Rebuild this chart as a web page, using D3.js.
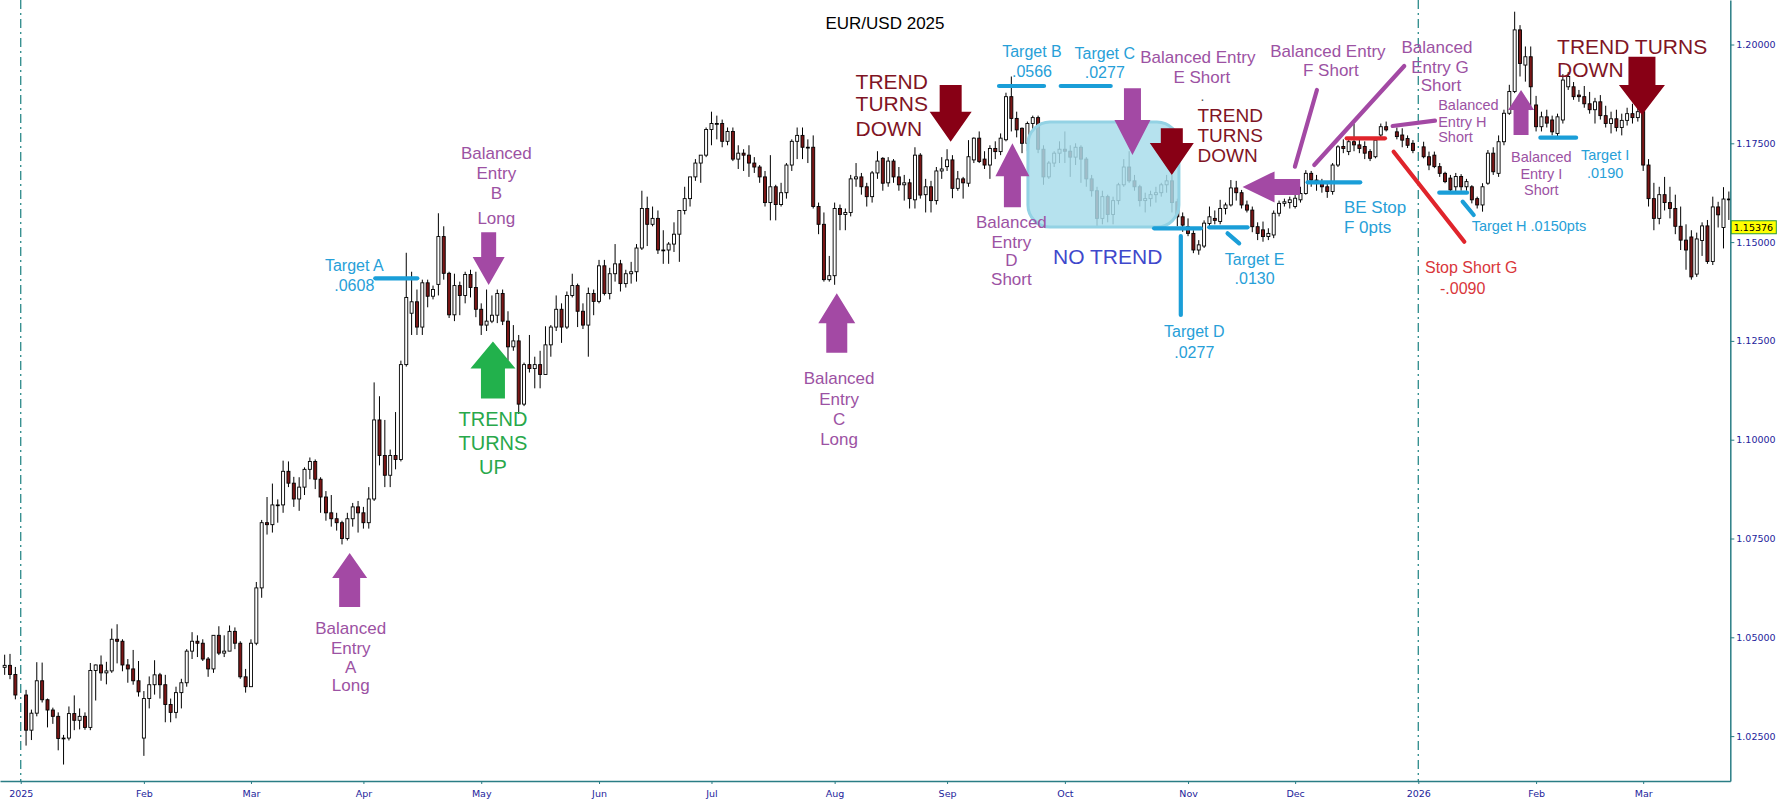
<!DOCTYPE html>
<html>
<head>
<meta charset="utf-8">
<script src="https://cdn.jsdelivr.net/npm/d3@7"></script>
<style>
  body { margin: 0; background: #fff; }
  svg { display: block; }
  text { font-family: "Liberation Sans", Arial, sans-serif; }
  .axis text { font-family: "DejaVu Sans", Verdana, sans-serif; font-size: 9.5px; fill: #23239b; }
  .axis path, .axis line { stroke: #2a7d85; }
</style>
</head>
<body>
<svg id="chart" width="1787" height="811"></svg>
<script>
// daily candles [open, high, low, close], one row per weekday, null = holiday
const dec24 = [
  [1.0424,1.0456,1.0405,1.0429],[1.0429,1.0458,1.0394,1.0406],[1.0406,1.0425,1.0343,1.0354]
];
const jan25 = [
  null,
  [1.0354,1.0367,1.0226,1.0265],[1.0265,1.0317,1.0240,1.0308],[1.0308,1.0437,1.0300,1.0390],
  [1.0390,1.0436,1.0335,1.0342],[1.0342,1.0345,1.0272,1.0316],[1.0316,1.0322,1.0281,1.0300],
  [1.0300,1.0310,1.0214,1.0244],[1.0244,1.0253,1.0178,1.0245],[1.0245,1.0325,1.0239,1.0307],
  [1.0307,1.0353,1.0265,1.0290],[1.0290,1.0320,1.0267,1.0300],[1.0300,1.0310,1.0266,1.0272],
  [1.0272,1.0435,1.0265,1.0416],[1.0416,1.0431,1.0340,1.0430],[1.0430,1.0454,1.0390,1.0410],
  [1.0410,1.0438,1.0381,1.0415],[1.0415,1.0522,1.0410,1.0495],[1.0495,1.0533,1.0434,1.0490],
  [1.0490,1.0495,1.0414,1.0430],[1.0430,1.0445,1.0385,1.0420],[1.0420,1.0468,1.0380,1.0390],
  [1.0390,1.0440,1.0350,1.0362]
];
const feb25 = [
  [1.0245,1.0364,1.0200,1.0345],[1.0345,1.0401,1.0320,1.0380],[1.0380,1.0442,1.0355,1.0405],
  [1.0405,1.0410,1.0345,1.0380],[1.0380,1.0405,1.0285,1.0330],[1.0330,1.0345,1.0285,1.0310],
  [1.0310,1.0375,1.0295,1.0360],[1.0360,1.0395,1.0320,1.0385],[1.0385,1.0470,1.0375,1.0465],
  [1.0465,1.0513,1.0445,1.0490],[1.0490,1.0505,1.0450,1.0485],[1.0485,1.0495,1.0440,1.0445],
  [1.0445,1.0450,1.0400,1.0420],[1.0420,1.0505,1.0410,1.0505],[1.0505,1.0528,1.0455,1.0460],
  [1.0460,1.0505,1.0450,1.0465],[1.0465,1.0530,1.0465,1.0515],[1.0515,1.0525,1.0470,1.0485],
  [1.0485,1.0490,1.0395,1.0400],[1.0400,1.0420,1.0360,1.0375]
];
const mar25 = [
  [1.0375,1.0495,1.0375,1.0485],[1.0485,1.0640,1.0480,1.0625],[1.0625,1.0797,1.0600,1.0790],
  [1.0790,1.0855,1.0760,1.0785],[1.0785,1.0889,1.0765,1.0835],[1.0835,1.0849,1.0790,1.0835],
  [1.0835,1.0947,1.0815,1.0920],[1.0920,1.0945,1.0880,1.0890],[1.0890,1.0906,1.0830,1.0850],
  [1.0850,1.0905,1.0820,1.0880],[1.0880,1.0930,1.0860,1.0925],[1.0925,1.0955,1.0900,1.0945],
  [1.0945,1.0950,1.0875,1.0900],[1.0900,1.0905,1.0815,1.0855],[1.0855,1.0870,1.0795,1.0815],
  [1.0815,1.0860,1.0780,1.0800],[1.0800,1.0815,1.0770,1.0790],[1.0790,1.0795,1.0735,1.0750],
  [1.0750,1.0815,1.0745,1.0800],[1.0800,1.0840,1.0780,1.0830],[1.0830,1.0845,1.0765,1.0815]
];
const apr25 = [
  [1.0815,1.0830,1.0775,1.0790],[1.0790,1.0880,1.0775,1.0850],[1.0850,1.1145,1.0845,1.1050],
  [1.1050,1.1110,1.0935,1.0960],[1.0960,1.1050,1.0880,1.0910],[1.0910,1.0975,1.0880,1.0960],
  [1.0960,1.1070,1.0925,1.0950],[1.0950,1.1200,1.0945,1.1190],[1.1190,1.1473,1.1185,1.1360],
  [1.1320,1.1425,1.1265,1.1349],[1.1349,1.1380,1.1265,1.1285],[1.1285,1.1405,1.1265,1.1397],
  [1.1397,1.1405,1.1335,1.1363],[1.1363,1.1390,1.1355,1.1380],[1.1393,1.1573,1.1365,1.1514],
  [1.1514,1.1540,1.1405,1.1421],[1.1421,1.1425,1.1308,1.1316],[1.1316,1.1420,1.1300,1.1390],
  [1.1390,1.1400,1.1315,1.1365],[1.1365,1.1425,1.1345,1.1418],[1.1418,1.1430,1.1360,1.1385],
  [1.1385,1.1425,1.1310,1.1330]
];
const may25 = [
  [1.1330,1.1345,1.1265,1.1290],[1.1290,1.1380,1.1275,1.1300],[1.1300,1.1365,1.1295,1.1315],
  [1.1315,1.1380,1.1295,1.1370],[1.1370,1.1380,1.1290,1.1300],[1.1300,1.1325,1.1200,1.1235],
  [1.1235,1.1290,1.1225,1.1250],[1.1250,1.1265,1.1065,1.1090],[1.1090,1.1195,1.1085,1.1190],
  [1.1190,1.1265,1.1170,1.1180],[1.1180,1.1210,1.1130,1.1190],[1.1190,1.1225,1.1130,1.1165],
  [1.1165,1.1287,1.1165,1.1240],[1.1240,1.1290,1.1210,1.1285],[1.1285,1.1365,1.1275,1.1330],
  [1.1330,1.1345,1.1245,1.1285],[1.1285,1.1375,1.1280,1.1365],[1.1365,1.1420,1.1360,1.1390],
  [1.1390,1.1395,1.1285,1.1325],[1.1325,1.1345,1.1280,1.1290],[1.1290,1.1385,1.1210,1.1370],
  [1.1370,1.1380,1.1315,1.1350]
];
const jun25 = [
  [1.1350,1.1455,1.1345,1.1440],[1.1440,1.1455,1.1365,1.1370],[1.1370,1.1435,1.1355,1.1420],
  [1.1420,1.1495,1.1400,1.1445],[1.1445,1.1455,1.1375,1.1395],[1.1395,1.1430,1.1385,1.1420],
  [1.1420,1.1450,1.1395,1.1425],[1.1425,1.1495,1.1400,1.1485],[1.1485,1.1630,1.1480,1.1585],
  [1.1585,1.1615,1.1490,1.1545],[1.1545,1.1590,1.1540,1.1560],[1.1560,1.1580,1.1470,1.1480],
  [1.1480,1.1530,1.1445,1.1480],[1.1480,1.1500,1.1445,1.1495],[1.1495,1.1550,1.1475,1.1520],
  [1.1520,1.1580,1.1450,1.1580],[1.1580,1.1640,1.1570,1.1610],[1.1610,1.1660,1.1590,1.1665],
  [1.1665,1.1710,1.1655,1.1700],[1.1700,1.1720,1.1650,1.1720],[1.1720,1.1790,1.1715,1.1785]
];
const jul25 = [
  [1.1785,1.1830,1.1745,1.1800],[1.1800,1.1820,1.1760,1.1800],[1.1800,1.1810,1.1740,1.1755],
  [1.1755,1.1790,1.1745,1.1780],[1.1780,1.1790,1.1705,1.1710],[1.1710,1.1745,1.1685,1.1725],
  [1.1725,1.1735,1.1680,1.1720],[1.1720,1.1745,1.1665,1.1700],[1.1700,1.1715,1.1675,1.1690],
  [1.1690,1.1695,1.1650,1.1665],[1.1665,1.1680,1.1590,1.1600],[1.1600,1.1720,1.1555,1.1640],
  [1.1640,1.1645,1.1555,1.1595],[1.1595,1.1650,1.1590,1.1625],[1.1625,1.1700,1.1610,1.1695],
  [1.1695,1.1760,1.1680,1.1755],[1.1755,1.1790,1.1710,1.1770],[1.1770,1.1790,1.1710,1.1740],
  [1.1740,1.1760,1.1700,1.1740],[1.1740,1.1770,1.1585,1.1590],[1.1590,1.1600,1.1520,1.1545],
  [1.1545,1.1575,1.1400,1.1405],[1.1405,1.1465,1.1400,1.1415]
];
const aug25 = [
  [1.1415,1.1600,1.1392,1.1585],[1.1585,1.1595,1.1530,1.1570],[1.1570,1.1585,1.1530,1.1575],
  [1.1575,1.1670,1.1565,1.1660],[1.1660,1.1700,1.1640,1.1665],[1.1665,1.1675,1.1620,1.1640],
  [1.1640,1.1650,1.1590,1.1615],[1.1615,1.1680,1.1600,1.1675],[1.1675,1.1730,1.1660,1.1705],
  [1.1712,1.1715,1.1630,1.1649],[1.1650,1.1715,1.1640,1.1705],[1.1705,1.1710,1.1650,1.1665],
  [1.1665,1.1690,1.1630,1.1645],[1.1645,1.1670,1.1605,1.1650],[1.1650,1.1660,1.1585,1.1610],
  [1.1607,1.1740,1.1585,1.1720],[1.1720,1.1725,1.1610,1.1619],[1.1620,1.1660,1.1575,1.1640],
  [1.1640,1.1655,1.1575,1.1605],[1.1605,1.1690,1.1595,1.1680],[1.1680,1.1715,1.1660,1.1685]
];
const sep25 = [
  [1.1691,1.1735,1.1680,1.1708],[1.1708,1.1720,1.1611,1.1636],[1.1636,1.1680,1.1630,1.1660],
  [1.1660,1.1665,1.1610,1.1650],[1.1649,1.1758,1.1640,1.1716],[1.1708,1.1765,1.1700,1.1763],
  [1.1763,1.1780,1.1700,1.1704],[1.1710,1.1730,1.1685,1.1695],[1.1695,1.1745,1.1660,1.1737],
  [1.1737,1.1755,1.1710,1.1729],[1.1729,1.1775,1.1720,1.1763],[1.1759,1.1878,1.1755,1.1868],
  [1.1868,1.1919,1.1780,1.1813],[1.1813,1.1830,1.1765,1.1784],[1.1788,1.1790,1.1725,1.1750],
  [1.1750,1.1805,1.1730,1.1800],[1.1800,1.1820,1.1785,1.1815],[1.1815,1.1820,1.1725,1.1735],
  [1.1735,1.1745,1.1645,1.1665],[1.1665,1.1705,1.1660,1.1700],[1.1700,1.1730,1.1690,1.1725],
  [1.1725,1.1755,1.1700,1.1735]
];
const oct25 = [
  [1.1735,1.1780,1.1700,1.1730],[1.1730,1.1745,1.1665,1.1715],[1.1715,1.1750,1.1695,1.1740],
  [1.1740,1.1745,1.1650,1.1710],[1.1710,1.1715,1.1640,1.1660],[1.1660,1.1670,1.1615,1.1630],
  [1.1630,1.1640,1.1540,1.1560],[1.1560,1.1630,1.1545,1.1615],[1.1615,1.1620,1.1550,1.1570],
  [1.1570,1.1615,1.1545,1.1605],[1.1605,1.1650,1.1595,1.1645],[1.1645,1.1710,1.1640,1.1690],
  [1.1690,1.1730,1.1650,1.1655],[1.1655,1.1670,1.1630,1.1640],[1.1640,1.1645,1.1590,1.1605],
  [1.1605,1.1625,1.1575,1.1610],[1.1610,1.1630,1.1590,1.1620],[1.1620,1.1640,1.1600,1.1625],
  [1.1625,1.1650,1.1615,1.1645],[1.1645,1.1670,1.1625,1.1655],[1.1655,1.1670,1.1575,1.1600],
  [1.1602,1.1610,1.1540,1.1564],[1.1564,1.1575,1.1526,1.1543]
];
const nov25 = [
  [1.1539,1.1560,1.1515,1.1522],[1.1522,1.1530,1.1472,1.1480],[1.1480,1.1505,1.1468,1.1493],
  [1.1490,1.1555,1.1485,1.1548],[1.1547,1.1590,1.1540,1.1564],[1.1560,1.1580,1.1545,1.1555],
  [1.1552,1.1607,1.1545,1.1585],[1.1585,1.1600,1.1570,1.1594],[1.1594,1.1657,1.1590,1.1637],
  [1.1637,1.1655,1.1605,1.1625],[1.1625,1.1632,1.1585,1.1594],[1.1594,1.1605,1.1575,1.1581],
  [1.1581,1.1590,1.1525,1.1539],[1.1539,1.1550,1.1505,1.1522],[1.1531,1.1552,1.1501,1.1514],
  [1.1514,1.1535,1.1505,1.1522],[1.1518,1.1580,1.1510,1.1573],[1.1573,1.1605,1.1565,1.1598],
  [1.1598,1.1610,1.1590,1.1602],[1.1600,1.1615,1.1585,1.1607]
];
const dec25 = [
  [1.1590,1.1620,1.1585,1.1611],[1.1607,1.1640,1.1600,1.1623],[1.1623,1.1682,1.1620,1.1674],
  [1.1674,1.1680,1.1640,1.1657],[1.1657,1.1670,1.1630,1.1649],[1.1649,1.1660,1.1625,1.1640],
  [1.1640,1.1650,1.1612,1.1628],[1.1628,1.1700,1.1620,1.1695],[1.1695,1.1745,1.1690,1.1741],
  [1.1742,1.1760,1.1725,1.1737],[1.1729,1.1765,1.1720,1.1754],[1.1754,1.1800,1.1730,1.1746],
  [1.1746,1.1760,1.1725,1.1737],[1.1742,1.1755,1.1710,1.1725],[1.1729,1.1735,1.1705,1.1712],
  [1.1716,1.1765,1.1712,1.1758],[1.1771,1.1800,1.1765,1.1792],[1.1792,1.1805,1.1780,1.1784],
  null,
  [1.1779,1.1790,1.1760,1.1767],[1.1771,1.1788,1.1740,1.1758],[1.1762,1.1770,1.1738,1.1745],
  [1.1750,1.1758,1.1725,1.1732]
];
const jan26 = [
  null,
  [1.1741,1.1754,1.1712,1.1716],[1.1716,1.1729,1.1682,1.1695],[1.1720,1.1729,1.1687,1.1691],
  [1.1691,1.1700,1.1665,1.1674],[1.1674,1.1678,1.1649,1.1653],[1.1662,1.1670,1.1625,1.1632],
  [1.1640,1.1675,1.1628,1.1666],[1.1666,1.1672,1.1630,1.1640],[1.1640,1.1660,1.1630,1.1653],
  [1.1640,1.1644,1.1598,1.1607],[1.1610,1.1615,1.1585,1.1594],[1.1594,1.1649,1.1577,1.1640],
  [1.1649,1.1733,1.1645,1.1725],[1.1725,1.1740,1.1670,1.1678],[1.1674,1.1770,1.1665,1.1754],
  [1.1754,1.1835,1.1745,1.1826],[1.1826,1.1898,1.1822,1.1881],[1.1881,1.2083,1.1877,1.2037],
  [1.2037,1.2049,1.1919,1.1952],[1.1948,1.1995,1.1906,1.1969],[1.1969,1.1995,1.1834,1.1893]
];
const feb26 = [
  [1.1847,1.1870,1.1780,1.1792],[1.1792,1.1830,1.1780,1.1817],[1.1817,1.1835,1.1790,1.1801],
  [1.1809,1.1820,1.1770,1.1779],[1.1775,1.1825,1.1765,1.1817],[1.1809,1.1925,1.1800,1.1910],
  [1.1893,1.1930,1.1885,1.1919],[1.1893,1.1905,1.1860,1.1868],[1.1872,1.1885,1.1855,1.1868],
  [1.1868,1.1895,1.1840,1.1850],[1.1850,1.1880,1.1825,1.1835],[1.1835,1.1865,1.1800,1.1855],
  [1.1855,1.1872,1.1810,1.1820],[1.1820,1.1845,1.1790,1.1800],[1.1800,1.1830,1.1775,1.1812],
  [1.1812,1.1835,1.1780,1.1790],[1.1790,1.1825,1.1770,1.1808],[1.1808,1.1840,1.1795,1.1825],
  [1.1825,1.1850,1.1800,1.1815],[1.1815,1.1845,1.1805,1.1830]
];
const mar26 = [
  [1.1830,1.1838,1.1680,1.1695],[1.1695,1.1710,1.1590,1.1610],[1.1610,1.1650,1.1530,1.1560],
  [1.1560,1.1640,1.1545,1.1620],[1.1620,1.1665,1.1580,1.1600],[1.1600,1.1640,1.1560,1.1585],
  [1.1585,1.1620,1.1520,1.1540],[1.1540,1.1590,1.1480,1.1505],[1.1505,1.1545,1.1430,1.1480],
  [1.1513,1.1530,1.1405,1.1412],[1.1419,1.1524,1.1412,1.1508],[1.1504,1.1550,1.1465,1.1541],
  [1.1541,1.1556,1.1445,1.1451],[1.1451,1.1615,1.1442,1.1589],[1.1589,1.1602,1.1537,1.1569],
  [1.1537,1.1639,1.1484,1.1609],[1.1609,1.1628,1.1556,1.1608]
];

const months = [dec24, jan25, feb25, mar25, apr25, may25, jun25, jul25, aug25, sep25, oct25, nov25, dec25, jan26, feb26, mar26];
const monthLabels = ["", "2025", "Feb", "Mar", "Apr", "May", "Jun", "Jul", "Aug", "Sep", "Oct", "Nov", "Dec", "2026", "Feb", "Mar"];
const priceTicks = [1.025, 1.05, 1.075, 1.1, 1.125, 1.15, 1.175, 1.2];
const lastPrice = 1.15376;

// annotations, anchored in (candle index, price)
const noTrendBox = { i0: 191.1, i1: 219.3, pTop: 1.1804, pBottom: 1.1538 };

const arrowsV = [
  { i: 64.43, tail: 1.05767, tip: 1.07133, sw: 21, hw: 35, hl: 25, c: "#a349a4" },
  { i: 90.39, tail: 1.15248, tip: 1.13914, sw: 15, hw: 32, hl: 28, c: "#a349a4" },
  { i: 91.19, tail: 1.11040, tip: 1.12487, sw: 24, hw: 45, hl: 27, c: "#22b14c" },
  { i: 155.40, tail: 1.12199, tip: 1.13707, sw: 21, hw: 37, hl: 30, c: "#a349a4" },
  { i: 176.67, tail: 1.18975, tip: 1.17540, sw: 22, hw: 42, hl: 30, c: "#880015" },
  { i: 188.20, tail: 1.15881, tip: 1.17500, sw: 17, hw: 34, hl: 33, c: "#a349a4" },
  { i: 210.62, tail: 1.18892, tip: 1.17204, sw: 17, hw: 36, hl: 35, c: "#a349a4" },
  { i: 217.97, tail: 1.17880, tip: 1.16698, sw: 22, hw: 44, hl: 32, c: "#880015" },
  { i: 283.19, tail: 1.17710, tip: 1.18849, sw: 15, hw: 26, hl: 20, c: "#a349a4" },
  { i: 305.77, tail: 1.19691, tip: 1.18216, sw: 27, hw: 46, hl: 30, c: "#880015" }
];
const arrowsH = [
  { tip: 231.18, tail: 241.94, p: 1.16397, sw: 16, hw: 31, hl: 32, c: "#a349a4" }
];

const segments = [
  [69.21, 1.14084, 77.06, 1.14084, "#1a9ed8"],
  [185.70, 1.18950, 194.11, 1.18950, "#1a9ed8"],
  [197.22, 1.18950, 206.56, 1.18950, "#1a9ed8"],
  [214.66, 1.15349, 223.40, 1.15349, "#1a9ed8"],
  [219.65, 1.15154, 219.65, 1.13155, "#1a9ed8"],
  [224.94, 1.15374, 232.12, 1.15374, "#1a9ed8"],
  [228.38, 1.15223, 230.55, 1.14970, "#1a9ed8"],
  [243.33, 1.16513, 253.16, 1.16513, "#1a9ed8"],
  [250.62, 1.17627, 257.78, 1.17627, "#e0242b"],
  [259.40, 1.17287, 272.60, 1.15010, "#e0242b"],
  [245.07, 1.18849, 240.96, 1.16908, "#a349a4"],
  [244.57, 1.16951, 261.38, 1.19456, "#a349a4"],
  [259.21, 1.17938, 267.12, 1.18072, "#a349a4"],
  [267.92, 1.16250, 273.10, 1.16250, "#1a9ed8"],
  [272.29, 1.16022, 274.35, 1.15686, "#1a9ed8"],
  [286.80, 1.17642, 293.47, 1.17642, "#1a9ed8"]
];

const purple = "#9c52a3", blue = "#27a0d8", darkRed = "#7f1424";
const labels = [
  { i: 65.29, p: 1.14421, size: 16, c: blue, lines: [["Target A", 0, 0], [".0608", 0, 20]] },
  { i: 64.63, p: 1.05243, size: 17, c: purple, lines: [["Balanced", 0, 0], ["Entry", 0, 20.7], ["A", 0, 39], ["Long", 0, 57.3]] },
  { i: 91.82, p: 1.17247, size: 17, c: purple, lines: [["Balanced", 0, 0], ["Entry", 0, 20], ["B", 0, 39.4], ["Long", 0, 65]] },
  { i: 91.19, p: 1.10516, size: 20, c: "#28a84a", lines: [["TREND", 0, 0], ["TURNS", 0, 24], ["UP", 0, 48]] },
  { i: 155.83, p: 1.11561, size: 17, c: purple, lines: [["Balanced", 0, 0], ["Entry", 0, 20.6], ["C", 0, 41.3], ["Long", 0, 60.7]] },
  { i: 158.91, p: 1.19059, size: 21, c: darkRed, anchor: "start", lines: [["TREND", 0, 0], ["TURNS", 0, 22.3], ["DOWN", 0, 46.6]] },
  { i: 191.86, p: 1.19818, size: 16, c: blue, lines: [["Target B", 0, 0], [".0566", 0, 20]] },
  { i: 205.45, p: 1.19777, size: 16, c: blue, lines: [["Target C", 0, 0], [".0277", 0, 19.4]] },
  { i: 188.01, p: 1.15516, size: 17, c: purple, lines: [["Balanced", 0, 0], ["Entry", 0, 20], ["D", 0, 38.3], ["Short", 0, 57.6]] },
  { i: 195.79, p: 1.14631, size: 21, c: "#3f48cc", anchor: "start", lines: [["NO TREND", 0, 0]] },
  { i: 222.83, p: 1.19676, size: 17, c: purple, lines: [["Balanced Entry", 0, 0], ["E Short", 4, 20]] },
  { i: 223.70, p: 1.18700, size: 14, c: "#555", lines: [[".", 0, 0]] },
  { i: 222.77, p: 1.18216, size: 19, c: darkRed, anchor: "start", lines: [["TREND", 0, 0], ["TURNS", 0, 20], ["DOWN", 0, 40]] },
  { i: 222.17, p: 1.12750, size: 16, c: blue, lines: [["Target D", 0, 0], [".0277", 0, 21.8]] },
  { i: 233.44, p: 1.14565, size: 16, c: blue, lines: [["Target E", 0, 0], [".0130", 0, 19]] },
  { i: 247.12, p: 1.19843, size: 17, c: purple, lines: [["Balanced Entry", 0, 0], ["F Short", 3, 19.3]] },
  { i: 267.86, p: 1.19944, size: 17, c: purple, lines: [["Balanced", -2, 0], ["Entry G", 1, 20], ["Short", 2, 38.3]] },
  { i: 250.11, p: 1.15896, size: 17, c: blue, anchor: "start", lines: [["BE Stop", 0, 0], ["F 0pts", 0, 20]] },
  { i: 265.25, p: 1.14370, size: 16, c: "#d9363b", anchor: "start", lines: [["Stop Short G", 0, 0], ["-.0090", 15, 21.7]] },
  { i: 267.72, p: 1.18469, size: 14.5, c: purple, anchor: "start", lines: [["Balanced", 0, 0], ["Entry H", 0, 16.7], ["Short", 0, 31.7]] },
  { i: 273.98, p: 1.15407, size: 14.5, c: blue, anchor: "start", lines: [["Target H .0150pts", 0, 0]] },
  { i: 286.98, p: 1.17161, size: 14.5, c: purple, lines: [["Balanced", 0, 0], ["Entry I", 0, 17.3], ["Short", 0, 33.3]] },
  { i: 298.90, p: 1.17214, size: 14.5, c: blue, lines: [["Target I", 0, 0], [".0190", 0, 18.4]] },
  { i: 289.92, p: 1.19944, size: 21, c: darkRed, anchor: "start", lines: [["TREND TURNS", 0, 0], ["DOWN", 0, 23.3]] }
];

// ---------------------------------------------------------------
const svg = d3.select('#chart');
const plotRight = 1730.3, plotBottom = 781;

let candles = [];
let monthStart = [];
months.forEach(m => {
  monthStart.push(candles.length);
  m.forEach(r => candles.push(r));
});
const n = candles.length;

const x = d3.scaleLinear().domain([-0.87, n - 0.73]).range([0, plotRight]);
const y = d3.scaleLinear().domain([1.025, 1.2]).range([736.1, 44.5]);
const yAxisScale = y.copy().domain([y.invert(plotBottom), y.invert(0)]).range([plotBottom, 0]);

// year separators
const yearStarts = [monthStart[1], monthStart[13]];
svg.selectAll('line.year').data(yearStarts).enter().append('line')
  .attr('class', 'year')
  .attr('x1', d => x(d)).attr('x2', d => x(d))
  .attr('y1', 0).attr('y2', plotBottom)
  .attr('stroke', '#2b8a8a').attr('stroke-width', 1.3)
  .attr('stroke-dasharray', '9,4,2,4');

// candles
const bars = candles.map((d, i) => d ? { i: i, o: d[0], h: d[1], l: d[2], c: d[3] } : null).filter(d => d);
const cg = svg.append('g');
const candle = cg.selectAll('g').data(bars).enter().append('g');
candle.append('line')
  .attr('x1', d => x(d.i)).attr('x2', d => x(d.i))
  .attr('y1', d => y(d.h)).attr('y2', d => y(d.l))
  .attr('stroke', '#000').attr('stroke-width', 1);
candle.append('rect')
  .attr('x', d => x(d.i) - 1.5)
  .attr('width', 3)
  .attr('y', d => y(Math.max(d.o, d.c)))
  .attr('height', d => Math.max(0.8, Math.abs(y(d.o) - y(d.c))))
  .attr('fill', d => d.c >= d.o ? '#fff' : '#7a1616')
  .attr('stroke', '#000').attr('stroke-width', 0.9);

// no-trend zone
svg.append('rect')
  .attr('x', x(noTrendBox.i0)).attr('y', y(noTrendBox.pTop))
  .attr('width', x(noTrendBox.i1) - x(noTrendBox.i0))
  .attr('height', y(noTrendBox.pBottom) - y(noTrendBox.pTop))
  .attr('rx', 22).attr('ry', 22)
  .attr('fill', '#a8dceb').attr('fill-opacity', 0.84)
  .attr('stroke', '#93d2e4').attr('stroke-width', 3);

// axes
svg.append('g').attr('class', 'axis')
  .attr('transform', 'translate(' + plotRight + ',0)')
  .call(d3.axisRight(yAxisScale).tickValues(priceTicks).tickFormat(d3.format('.5f'))
    .tickSize(4).tickSizeOuter(0).tickPadding(2))
  .call(g => g.select('.domain').attr('stroke-width', 1.5));

const tickIdx = monthStart.filter((s, k) => monthLabels[k] !== '');
const tickTxt = monthLabels.filter(t => t !== '');
svg.append('g').attr('class', 'axis')
  .attr('transform', 'translate(0,' + plotBottom + ')')
  .call(d3.axisBottom(x).tickValues(tickIdx).tickFormat((d, k) => tickTxt[k])
    .tickSize(3).tickSizeOuter(0).tickPadding(6))
  .call(g => g.select('.domain').attr('stroke-width', 1.5));

// last price marker
const lp = svg.append('g').attr('transform', 'translate(' + (plotRight + 1) + ',' + y(lastPrice) + ')');
lp.append('rect').attr('x', 0).attr('y', -6.5).attr('width', 45).attr('height', 13)
  .attr('fill', '#ffff00').attr('stroke', '#2a9a3a').attr('stroke-width', 1);
lp.append('text').attr('x', 2.5).attr('y', 0).attr('dy', '0.35em')
  .style('font-family', '"DejaVu Sans", Verdana, sans-serif').style('font-size', '9.5px')
  .attr('fill', '#000').text(lastPrice.toFixed(5));

// title
svg.append('text').attr('x', 885).attr('y', 23).attr('dy', '0.35em')
  .attr('text-anchor', 'middle').attr('font-size', 17).attr('fill', '#000')
  .text('EUR/USD 2025');

// annotation lines
svg.selectAll('line.seg').data(segments).enter().append('line')
  .attr('class', 'seg')
  .attr('x1', d => x(d[0])).attr('y1', d => y(d[1]))
  .attr('x2', d => x(d[2])).attr('y2', d => y(d[3]))
  .attr('stroke', d => d[4]).attr('stroke-width', 4.2).attr('stroke-linecap', 'round');

// arrows
const vArrow = a => {
  const cx = x(a.i), y0 = y(a.tail), y1 = y(a.tip);
  const dir = y1 > y0 ? 1 : -1;
  const yb = y1 - dir * a.hl;
  return 'M' + (cx - a.sw / 2) + ',' + y0 + 'L' + (cx + a.sw / 2) + ',' + y0 +
    'L' + (cx + a.sw / 2) + ',' + yb + 'L' + (cx + a.hw / 2) + ',' + yb +
    'L' + cx + ',' + y1 + 'L' + (cx - a.hw / 2) + ',' + yb +
    'L' + (cx - a.sw / 2) + ',' + yb + 'Z';
};
const hArrow = a => {
  const cy = y(a.p), x0 = x(a.tail), x1 = x(a.tip);
  const dir = x1 > x0 ? 1 : -1;
  const xb = x1 - dir * a.hl;
  return 'M' + x0 + ',' + (cy - a.sw / 2) + 'L' + xb + ',' + (cy - a.sw / 2) +
    'L' + xb + ',' + (cy - a.hw / 2) + 'L' + x1 + ',' + cy +
    'L' + xb + ',' + (cy + a.hw / 2) + 'L' + xb + ',' + (cy + a.sw / 2) +
    'L' + x0 + ',' + (cy + a.sw / 2) + 'Z';
};
svg.selectAll('path.va').data(arrowsV).enter().append('path')
  .attr('class', 'va').attr('d', vArrow).attr('fill', d => d.c);
svg.selectAll('path.ha').data(arrowsH).enter().append('path')
  .attr('class', 'ha').attr('d', hArrow).attr('fill', d => d.c);

// annotation text
labels.forEach(b => {
  const t = svg.append('text')
    .attr('text-anchor', b.anchor || 'middle')
    .attr('font-size', b.size)
    .attr('fill', b.c);
  b.lines.forEach(l => {
    t.append('tspan')
      .attr('x', x(b.i) + l[1])
      .attr('y', y(b.p) + l[2])
      .attr('dy', '0.35em')
      .text(l[0]);
  });
});
</script>
</body>
</html>
